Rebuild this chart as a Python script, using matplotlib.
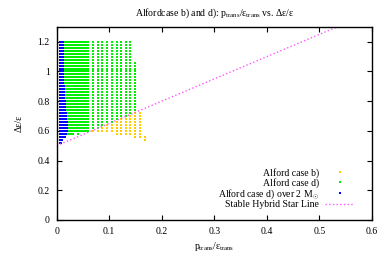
import numpy as np
from matplotlib import pyplot as plt

plt.rcParams['font.family'] = ['Liberation Serif', 'DejaVu Serif']
plt.rcParams['mathtext.fontset'] = 'custom'
plt.rcParams['mathtext.rm'] = 'Liberation Serif'
plt.rcParams['mathtext.it'] = 'Liberation Serif:italic'
plt.rcParams['font.size'] = 7

# rows of the Delta eps / eps scan
row_y = [0.52, 0.54, 0.56, 0.58, 0.60, 0.62, 0.64, 0.66, 0.68, 0.70,
         0.72, 0.74, 0.76, 0.78, 0.80, 0.82, 0.84, 0.86, 0.88, 0.90,
         0.92, 0.94, 0.96, 0.98, 1.00, 1.02, 1.04, 1.06, 1.08, 1.10,
         1.12, 1.14, 1.16, 1.18, 1.20]

# scan columns in p_trans/eps_trans with lowest / highest row present
scan_x = [0.010, 0.013, 0.016, 0.019, 0.022, 0.025, 0.028, 0.031, 0.034, 0.037,
          0.040, 0.044, 0.048, 0.052, 0.056,
          0.060, 0.069, 0.078, 0.087, 0.096, 0.105, 0.114, 0.123, 0.132, 0.140,
          0.149, 0.158, 0.169]
scan_lo = [0.60, 0.60, 0.60, 0.60, 0.58, 0.58, 0.58, 0.58, 0.60, 0.60,
           0.58, 0.60, 0.60, 0.60, 0.60,
           0.60, 0.60, 0.60, 0.60, 0.60, 0.60, 0.58, 0.58, 0.58, 0.58,
           0.56, 0.56, 0.54]
scan_hi = [1.20, 1.20, 1.20, 1.20, 1.20, 1.20, 1.20, 1.20, 1.20, 1.20,
           1.20, 1.20, 1.20, 1.20, 1.20,
           1.20, 1.20, 1.20, 1.20, 1.20, 1.20, 1.20, 1.20, 1.20, 1.20,
           1.06, 0.72, 0.56]

# configurations with M_max > 2 M_sun
blue_x = [0.006, 0.008, 0.010, 0.012, 0.014, 0.016, 0.018, 0.020]
blue_lo = [0.52, 0.52, 0.54, 0.56, 0.56, 0.56, 0.58, 0.60]
blue_hi = [1.20, 1.20, 1.20, 1.20, 0.90, 0.80, 0.72, 0.66]

# stable hybrid star line
stable_x = [0.0, 0.6]
stable_y = [0.5, 1.4]

x_ticks = [0, 0.1, 0.2, 0.3, 0.4, 0.5, 0.6]
x_labels = ['0', '0.1', '0.2', '0.3', '0.4', '0.5', '0.6']
y_ticks = [0, 0.2, 0.4, 0.6, 0.8, 1.0, 1.2]
y_labels = ['0', '0.2', '0.4', '0.6', '0.8', '1', '1.2']


def grid_points(xs, los, his):
    px, py = [], []
    for x, lo, hi in zip(xs, los, his):
        for y in row_y:
            if lo - 1e-9 <= y <= hi + 1e-9:
                px.append(x)
                py.append(y)
    return np.array(px), np.array(py)


sx, sy = grid_points(scan_x, scan_lo, scan_hi)
line_at = np.interp(sx, stable_x, stable_y)
below = sy < line_at
bx, by = grid_points(blue_x, blue_lo, blue_hi)

fig = plt.figure(figsize=(3.8, 2.54), dpi=100)
ax = fig.add_axes([0.149, 0.134, 0.830, 0.760])

ms = 1.6
ax.plot(sx[below], sy[below], 's', ms=ms, mew=0, color='#ffcc00', label='Alford case b)')
ax.plot(sx[~below], sy[~below], 's', ms=ms, mew=0, color='#00ee00', label='Alford case d)')
ax.plot(bx, by, 's', ms=ms, mew=0, color='#0000ff',
        label=r'Alford case d) over 2 M$_{\odot}$')
ax.plot(stable_x, stable_y, ':', lw=1.0, color='#ff55ff', label='Stable Hybrid Star Line')

ax.set_xlim(0, 0.6)
ax.set_ylim(0, 1.3)
ax.set_xticks(x_ticks)
ax.set_xticklabels(x_labels)
ax.set_yticks(y_ticks)
ax.set_yticklabels(y_labels)
ax.tick_params(direction='in', top=True, right=True, length=3.5, width=0.8, pad=5)
for s in ax.spines.values():
    s.set_linewidth(1.0)

ax.set_title(r'Alfordcase b) and d): p$_{\mathrm{trans}}$/ε$_{\mathrm{trans}}$ vs. Δε/ε',
             fontsize=7, pad=8)
ax.set_xlabel(r'p$_{\mathrm{trans}}$/ε$_{\mathrm{trans}}$', fontsize=7, labelpad=3)
ax.set_ylabel('Δε/ε', fontsize=7, labelpad=10)

ax.legend(loc='lower right', bbox_to_anchor=(0.965, 0.02), frameon=False,
          markerfirst=False, numpoints=1, handlelength=3.0, handletextpad=0.6,
          labelspacing=-0.04, borderpad=0.2, fontsize=7)

fig.savefig('out.png', dpi=100)
